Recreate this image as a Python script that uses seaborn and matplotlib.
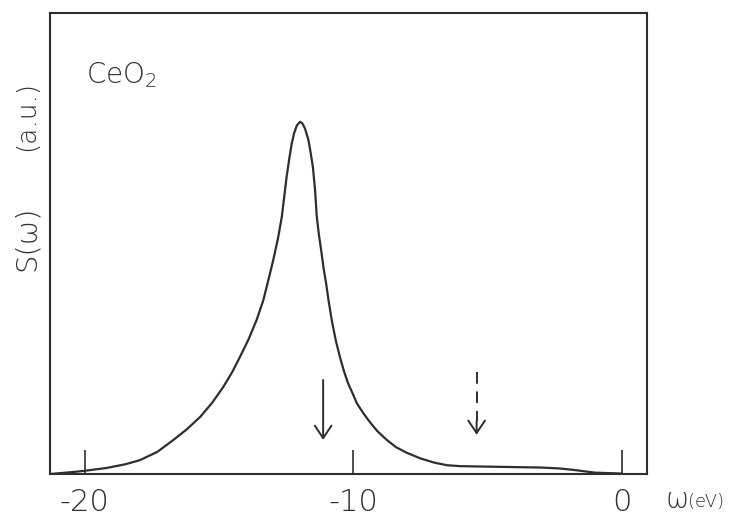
import matplotlib
matplotlib.use("Agg")
import matplotlib.pyplot as plt
import seaborn as sns
import pandas as pd

# ---- data ----
omega = [-21.3, -20.5, -20.0, -19.2, -18.5, -17.95, -17.3, -16.7, -16.2, -15.7,
         -15.25, -14.84, -14.5, -14.22, -13.9, -13.6, -13.35, -13.16, -12.98, -12.8,
         -12.66, -12.48, -12.38, -12.29, -12.2, -12.1, -11.98, -11.9, -11.8, -11.67,
         -11.58, -11.5, -11.42, -11.36, -11.28, -11.2, -11.1, -11.0, -10.92, -10.8,
         -10.65, -10.5, -10.36, -10.2, -10.0, -9.86, -9.6, -9.37, -9.1, -8.75,
         -8.4, -8.0, -7.5, -7.0, -6.5, -6.0, -5.0, -4.0, -3.0, -2.3,
         -1.8, -1.4, -1.0, -0.5, 0.0]
S = [0.0, 0.004, 0.007, 0.013, 0.021, 0.030, 0.048, 0.074, 0.097, 0.124,
     0.155, 0.189, 0.222, 0.254, 0.292, 0.334, 0.377, 0.421, 0.464, 0.512,
     0.558, 0.645, 0.685, 0.717, 0.740, 0.756, 0.764, 0.761, 0.750, 0.725,
     0.695, 0.665, 0.615, 0.560, 0.520, 0.488, 0.445, 0.410, 0.377, 0.334,
     0.290, 0.255, 0.226, 0.198, 0.172, 0.153, 0.130, 0.112, 0.093, 0.074,
     0.058, 0.046, 0.034, 0.025, 0.019, 0.017, 0.016, 0.015, 0.014, 0.012,
     0.009, 0.006, 0.003, 0.002, 0.001]

xticks = [-20, -10, 0]
xtick_labels = ["-20", "-10", "0"]

solid_arrow_x = -11.12
solid_arrow_y = [0.204, 0.074]
dashed_arrow_x = -5.4
dashed_arrow_y = [0.221, 0.085]

df = pd.DataFrame({"omega": omega, "S": S})

sns.set_style("white")
plt.rcParams["font.family"] = ["DejaVu Sans"]
plt.rcParams["mathtext.fontset"] = "custom"
plt.rcParams["mathtext.rm"] = "DejaVu Sans:light"
plt.rcParams["mathtext.default"] = "rm"
ink = "#2e2e2e"

fig = plt.figure(figsize=(7.43, 5.26), dpi=100)
ax = fig.add_axes([50/743, 1-474/526, (647-50)/743, (474-13)/526])

sns.lineplot(data=df, x="omega", y="S", sort=False, color=ink, lw=1.6, ax=ax)

ax.set_xlim(-21.3, 0.95)
ax.set_ylim(0, 1)
ax.set_xlabel("")
ax.set_ylabel("")
ax.set_yticks([])
ax.set_xticks(xticks)
ax.set_xticklabels(xtick_labels, fontsize=22, fontweight="light", color=ink)
ax.tick_params(axis="x", direction="in", length=17, width=1.2, color=ink, pad=10, bottom=True)
for sp in ax.spines.values():
    sp.set_visible(True)
    sp.set_linewidth(1.5)
    sp.set_color(ink)

head = "->,head_length=0.45,head_width=0.3"
# solid arrow
ax.annotate("", xy=(solid_arrow_x, solid_arrow_y[1]), xytext=(solid_arrow_x, solid_arrow_y[0]),
            arrowprops=dict(arrowstyle=head, color=ink, lw=1.4,
                            mutation_scale=20, shrinkA=0, shrinkB=0))
# dashed arrow: dashed shaft + solid head
ax.plot([dashed_arrow_x, dashed_arrow_x], [dashed_arrow_y[0], dashed_arrow_y[1] + 0.03],
        color=ink, lw=1.4, ls=(0, (6, 4)))
ax.annotate("", xy=(dashed_arrow_x, dashed_arrow_y[1]), xytext=(dashed_arrow_x, dashed_arrow_y[1] + 0.03),
            arrowprops=dict(arrowstyle=head, color=ink, lw=1.4,
                            mutation_scale=20, shrinkA=0, shrinkB=0))

# texts
ax.text(36/597, (474-75)/461, r"CeO$_{2}$", transform=ax.transAxes, fontsize=20,
        fontweight="light", color=ink, ha="left", va="center")
fig.text(27/743, 1-238/526, "S(ω)", rotation=90, fontsize=21, fontweight="light",
         color=ink, ha="center", va="center")
fig.text(27/743, 1-116/526, "(a.u.)", rotation=90, fontsize=19, fontweight="light",
         color=ink, ha="center", va="center")
fig.text(665/743, 1-500/526, "ω", fontsize=20, fontweight="light", color=ink,
         ha="left", va="center")
fig.text(688/743, 1-502/526, "(eV)", fontsize=13, fontweight="light", color=ink,
         ha="left", va="center")

fig.savefig("out.png", dpi=100, facecolor="white")
